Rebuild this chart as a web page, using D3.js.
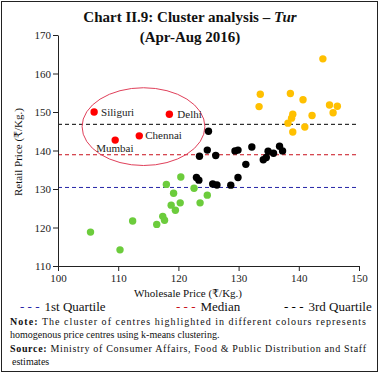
<!DOCTYPE html>
<html><head><meta charset="utf-8">
<script src="https://cdn.jsdelivr.net/npm/d3@7"></script>
<style>
html,body{margin:0;padding:0;background:#fff;}
svg{display:block;}
text{font-family:"Liberation Serif","DejaVu Serif",serif;fill:#111;}
</style></head><body>
<svg id="c" width="380" height="377"></svg>
<script>
// ---- data ----
const xTicks = [100,110,120,130,140,150];
const yTicks = [110,120,130,140,150,160,170];
const redCluster = [
  {name:"Siliguri", x:106.0, y:150.0},
  {name:"Delhi",    x:118.5, y:149.4},
  {name:"Chennai",  x:113.5, y:143.8},
  {name:"Mumbai",   x:109.5, y:142.7}
];
const blackX = [125.0,124.8,123.5,126.2,129.4,129.9,132.2,131.2,129.9,128.7,123.0,123.4,125.7,126.4,134.1,134.6,134.9,135.8,136.8,137.3];
const blackY = [145.0,140.1,138.5,138.7,139.9,140.1,140.9,136.4,133.0,131.0,133.0,132.3,131.3,131.05,137.6,138.2,139.8,139.3,141.1,139.9];
const yellowX = [144.0,133.6,133.4,138.6,140.7,145.1,146.4,145.7,142.2,139.0,138.8,138.2,141.0,139.0];
const yellowY = [163.8,154.6,151.4,154.8,153.2,151.8,151.5,149.8,149.1,149.4,148.4,147.1,146.1,144.8];
const greenX = [120.4,118.0,122.6,119.2,124.8,123.6,120.3,118.8,119.5,117.4,117.7,116.4,112.4,105.4,110.3];
const greenY = [133.1,131.2,130.2,128.9,128.4,126.4,126.4,125.8,124.5,122.9,121.9,120.8,121.7,118.8,114.2];
const quartiles = [
  {label:"1st Quartile", value:130.4},
  {label:"Median",       value:138.9},
  {label:"3rd Quartile", value:146.8}
];
const highlight = {cx:114.2, cy:146.2, rx:10.2, ry:10.1};
const titleLines = ["Chart II.9: Cluster analysis \u2013 ", "(Apr-Aug 2016)"];
const xTitle = "Wholesale Price (\u20B9/Kg.)";
const yTitle = "Retail Price (\u20B9/Kg.)";

// ---- styles ----
const qColors = ["#2626a8","#c8101c","#000000"];
const clusterColors = {red:"#ff0000", black:"#000000", yellow:"#ffc000", green:"#6ccc3c"};
const R = 3.7;

const svg = d3.select("#c");
svg.append("rect").attr("x",1.5).attr("y",1.5).attr("width",376).attr("height",370)
  .attr("fill","none").attr("stroke","#222").attr("stroke-width",1);

const x = d3.scaleLinear().domain([100,150]).range([58,359]);
const y = d3.scaleLinear().domain([110,170]).range([266,35]);

// title
const t1 = svg.append("text").attr("x",190).attr("y",22).attr("text-anchor","middle")
  .style("font-weight","bold").style("font-size","15px");
t1.append("tspan").text(titleLines[0]);
t1.append("tspan").style("font-style","italic").text("Tur");
svg.append("text").attr("x",190).attr("y",42).attr("text-anchor","middle")
  .style("font-weight","bold").style("font-size","15px").text(titleLines[1]);

// quartile lines
svg.append("g").selectAll("line").data(quartiles).join("line")
  .attr("x1",x(100)).attr("x2",x(150))
  .attr("y1",d=>y(d.value)).attr("y2",d=>y(d.value))
  .attr("stroke",(d,i)=>qColors[i]).attr("stroke-width",1)
  .attr("stroke-dasharray","4,3");

// axes
const gy = svg.append("g").attr("transform",`translate(${x(100)},0)`)
  .call(d3.axisLeft(y).tickValues(yTicks).tickSize(5).tickSizeOuter(0).tickPadding(2));
const gx = svg.append("g").attr("transform",`translate(0,${y(110)})`)
  .call(d3.axisBottom(x).tickValues(xTicks).tickSize(5).tickSizeOuter(0).tickPadding(3));
[gx,gy].forEach(g=>{
  g.selectAll("text").style("font-size","11px").style("font-family","'Liberation Serif',serif").style("fill","#222");
  g.selectAll("line,path").attr("stroke","#222");
});

// ellipse
svg.append("ellipse")
  .attr("cx",x(highlight.cx)).attr("cy",y(highlight.cy))
  .attr("rx",x(100+highlight.rx)-x(100)).attr("ry",y(110)-y(110+highlight.ry))
  .attr("fill","none").attr("stroke","#e0405a").attr("stroke-width",1);

// points
function pts(xs,ys,color){
  svg.append("g").selectAll("circle").data(xs.map((v,i)=>[v,ys[i]])).join("circle")
    .attr("cx",d=>x(d[0])).attr("cy",d=>y(d[1])).attr("r",R).attr("fill",color);
}
pts(greenX,greenY,clusterColors.green);
pts(blackX,blackY,clusterColors.black);
pts(yellowX,yellowY,clusterColors.yellow);
pts(redCluster.map(d=>d.x),redCluster.map(d=>d.y),clusterColors.red);

// red labels
const labelOff = {Siliguri:[7,3.5],Delhi:[8,4],Chennai:[6,3.5],Mumbai:[-19,12]};
svg.append("g").selectAll("text").data(redCluster).join("text")
  .attr("x",d=>x(d.x)+labelOff[d.name][0]).attr("y",d=>y(d.y)+labelOff[d.name][1])
  .style("font-size","11px").style("fill","#222").text(d=>d.name);

// axis titles
svg.append("text").attr("x",188).attr("y",297).attr("text-anchor","middle")
  .style("font-size","11px").text(xTitle);
svg.append("text").attr("transform","translate(22,152) rotate(-90)").attr("text-anchor","middle")
  .style("font-size","11px").text(yTitle);

// legend
const legX = [20,176,284];
quartiles.forEach((q,i)=>{
  const t = svg.append("text").attr("x",legX[i]).attr("y",311).style("font-size","13px");
  t.append("tspan").style("fill",qColors[i]).text("- - -");
  t.append("tspan").attr("dx",5).style("fill","#111").text(q.label);
});

// note
const noteFont = "10px";
const n1 = svg.append("text").attr("x",10).attr("y",325).style("font-size",noteFont)
  .attr("textLength",356).attr("lengthAdjust","spacing");
n1.append("tspan").style("font-weight","bold").text("Note:");
n1.append("tspan").text(" The cluster of centres highlighted in different colours represents");
svg.append("text").attr("x",10).attr("y",338).style("font-size",noteFont)
  .text("homogenous price centres using k-means clustering.");
const n3 = svg.append("text").attr("x",10).attr("y",352).style("font-size",noteFont)
  .attr("textLength",356).attr("lengthAdjust","spacing");
n3.append("tspan").style("font-weight","bold").text("Source:");
n3.append("tspan").text(" Ministry of Consumer Affairs, Food & Public Distribution and Staff");
svg.append("text").attr("x",12).attr("y",365).style("font-size",noteFont).text("estimates");
</script>
</body></html>
